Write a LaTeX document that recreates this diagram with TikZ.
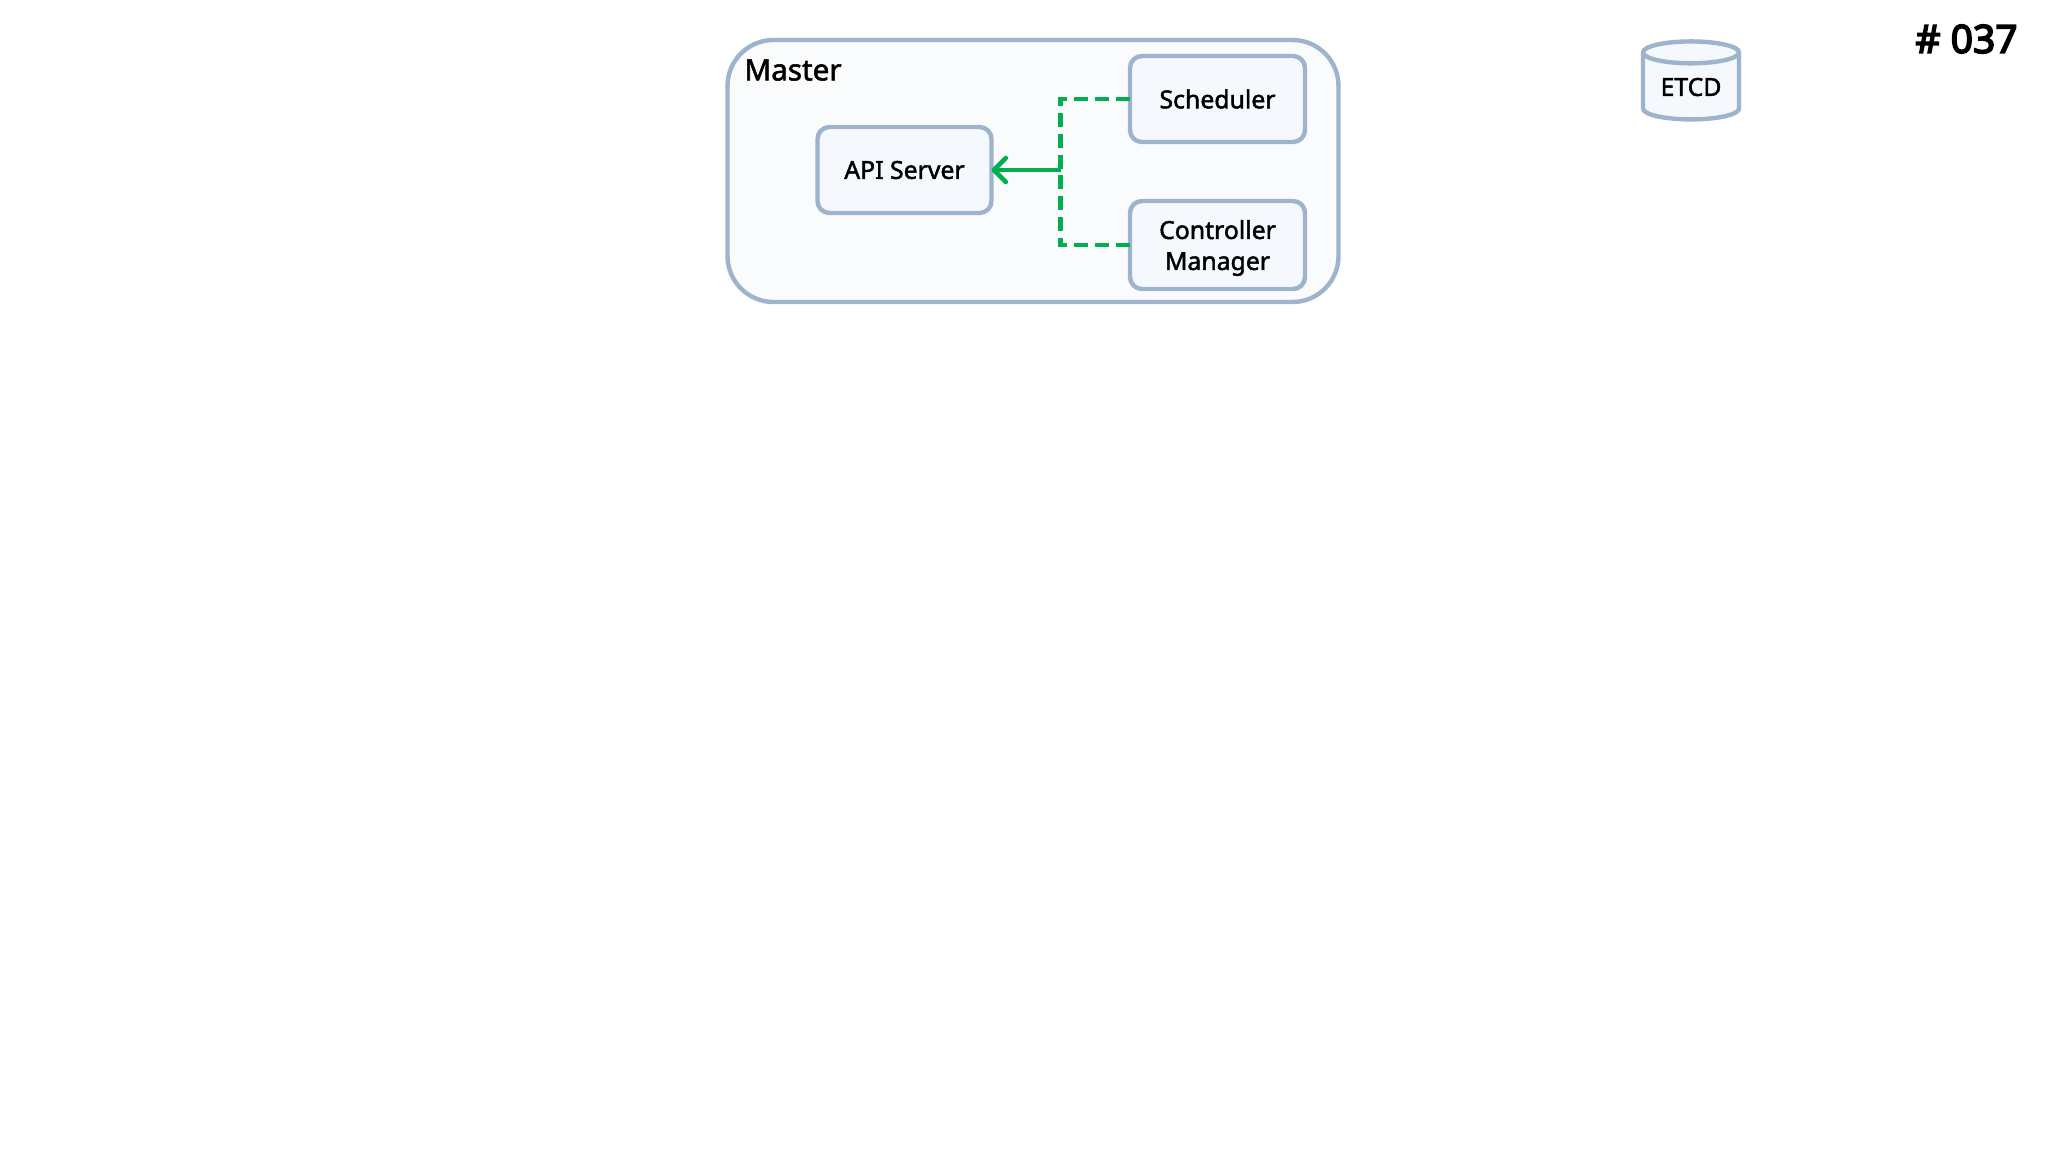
\documentclass[tikz,border=0pt]{standalone}
\usepackage{fontspec}
\setmainfont{Noto Sans}[FakeBold=1.8]
\newfontfamily\numberfont{Noto Sans}[FakeBold=4]
\usetikzlibrary{shapes.geometric,arrows.meta}
\definecolor{boxline}{HTML}{9DB4CC}
\definecolor{boxfill}{HTML}{F5F8FC}
\definecolor{flowgreen}{HTML}{00B050}
\tikzset{
  unit/.style={draw=boxline,fill=boxfill,line width=2.2pt,rounded corners=6pt,align=center,inner sep=0pt,outer sep=0pt,font=\fontsize{12.4}{15.5}\selectfont},
  dashflow/.style={draw=flowgreen,line width=2.3pt,dash pattern=on 7pt off 3.42pt},
  solidflow/.style={draw=flowgreen,line width=2.3pt,-{Straight Barb[length=6pt,width=12pt,round]}}
}
\begin{document}
\begin{tikzpicture}[x=0.5pt,y=-0.5pt]
      \useasboundingbox[fill=white] (0,0) rectangle (2048,1152);
      \node[unit,rounded corners=23pt,minimum width=305.5pt,minimum height=131pt,fill=boxfill!60] (master) at (1033,171) {};
      \node[anchor=west,inner sep=0pt,font=\fontsize{14.8}{18}\selectfont] (masterlabel) at (744,70) {Master};
      \node[unit,minimum width=87.5pt,minimum height=43pt] (scheduler) at (1217.5,99) {Scheduler};
      \node[unit,text depth=0pt,minimum width=87.5pt,minimum height=44pt] (controller) at (1217.5,245) {Controller\\Manager};
      \node[unit,minimum width=87pt,minimum height=43pt] (apiserver) at (904.5,170) {API Server};
      \coordinate (junction) at (1060.5,170);
      \draw[dashflow] (scheduler.west) -| (junction) |- (controller.west);
      \draw[solidflow] (junction) -- (apiserver.east);
      \node[draw=boxline,fill=boxfill,line width=2.2pt,shape=cylinder,shape border rotate=90,aspect=0.36,minimum width=48pt,minimum height=39pt,inner sep=0pt,outer sep=0pt,font=\fontsize{12.4}{15.5}\selectfont] (etcd) at (1691,87) {ETCD};
      \node[anchor=east,inner sep=0pt,font=\fontsize{19.5}{24}\numberfont] (pagenumber) at (2018,39) {\# 037};
    \end{tikzpicture}
\end{document}
